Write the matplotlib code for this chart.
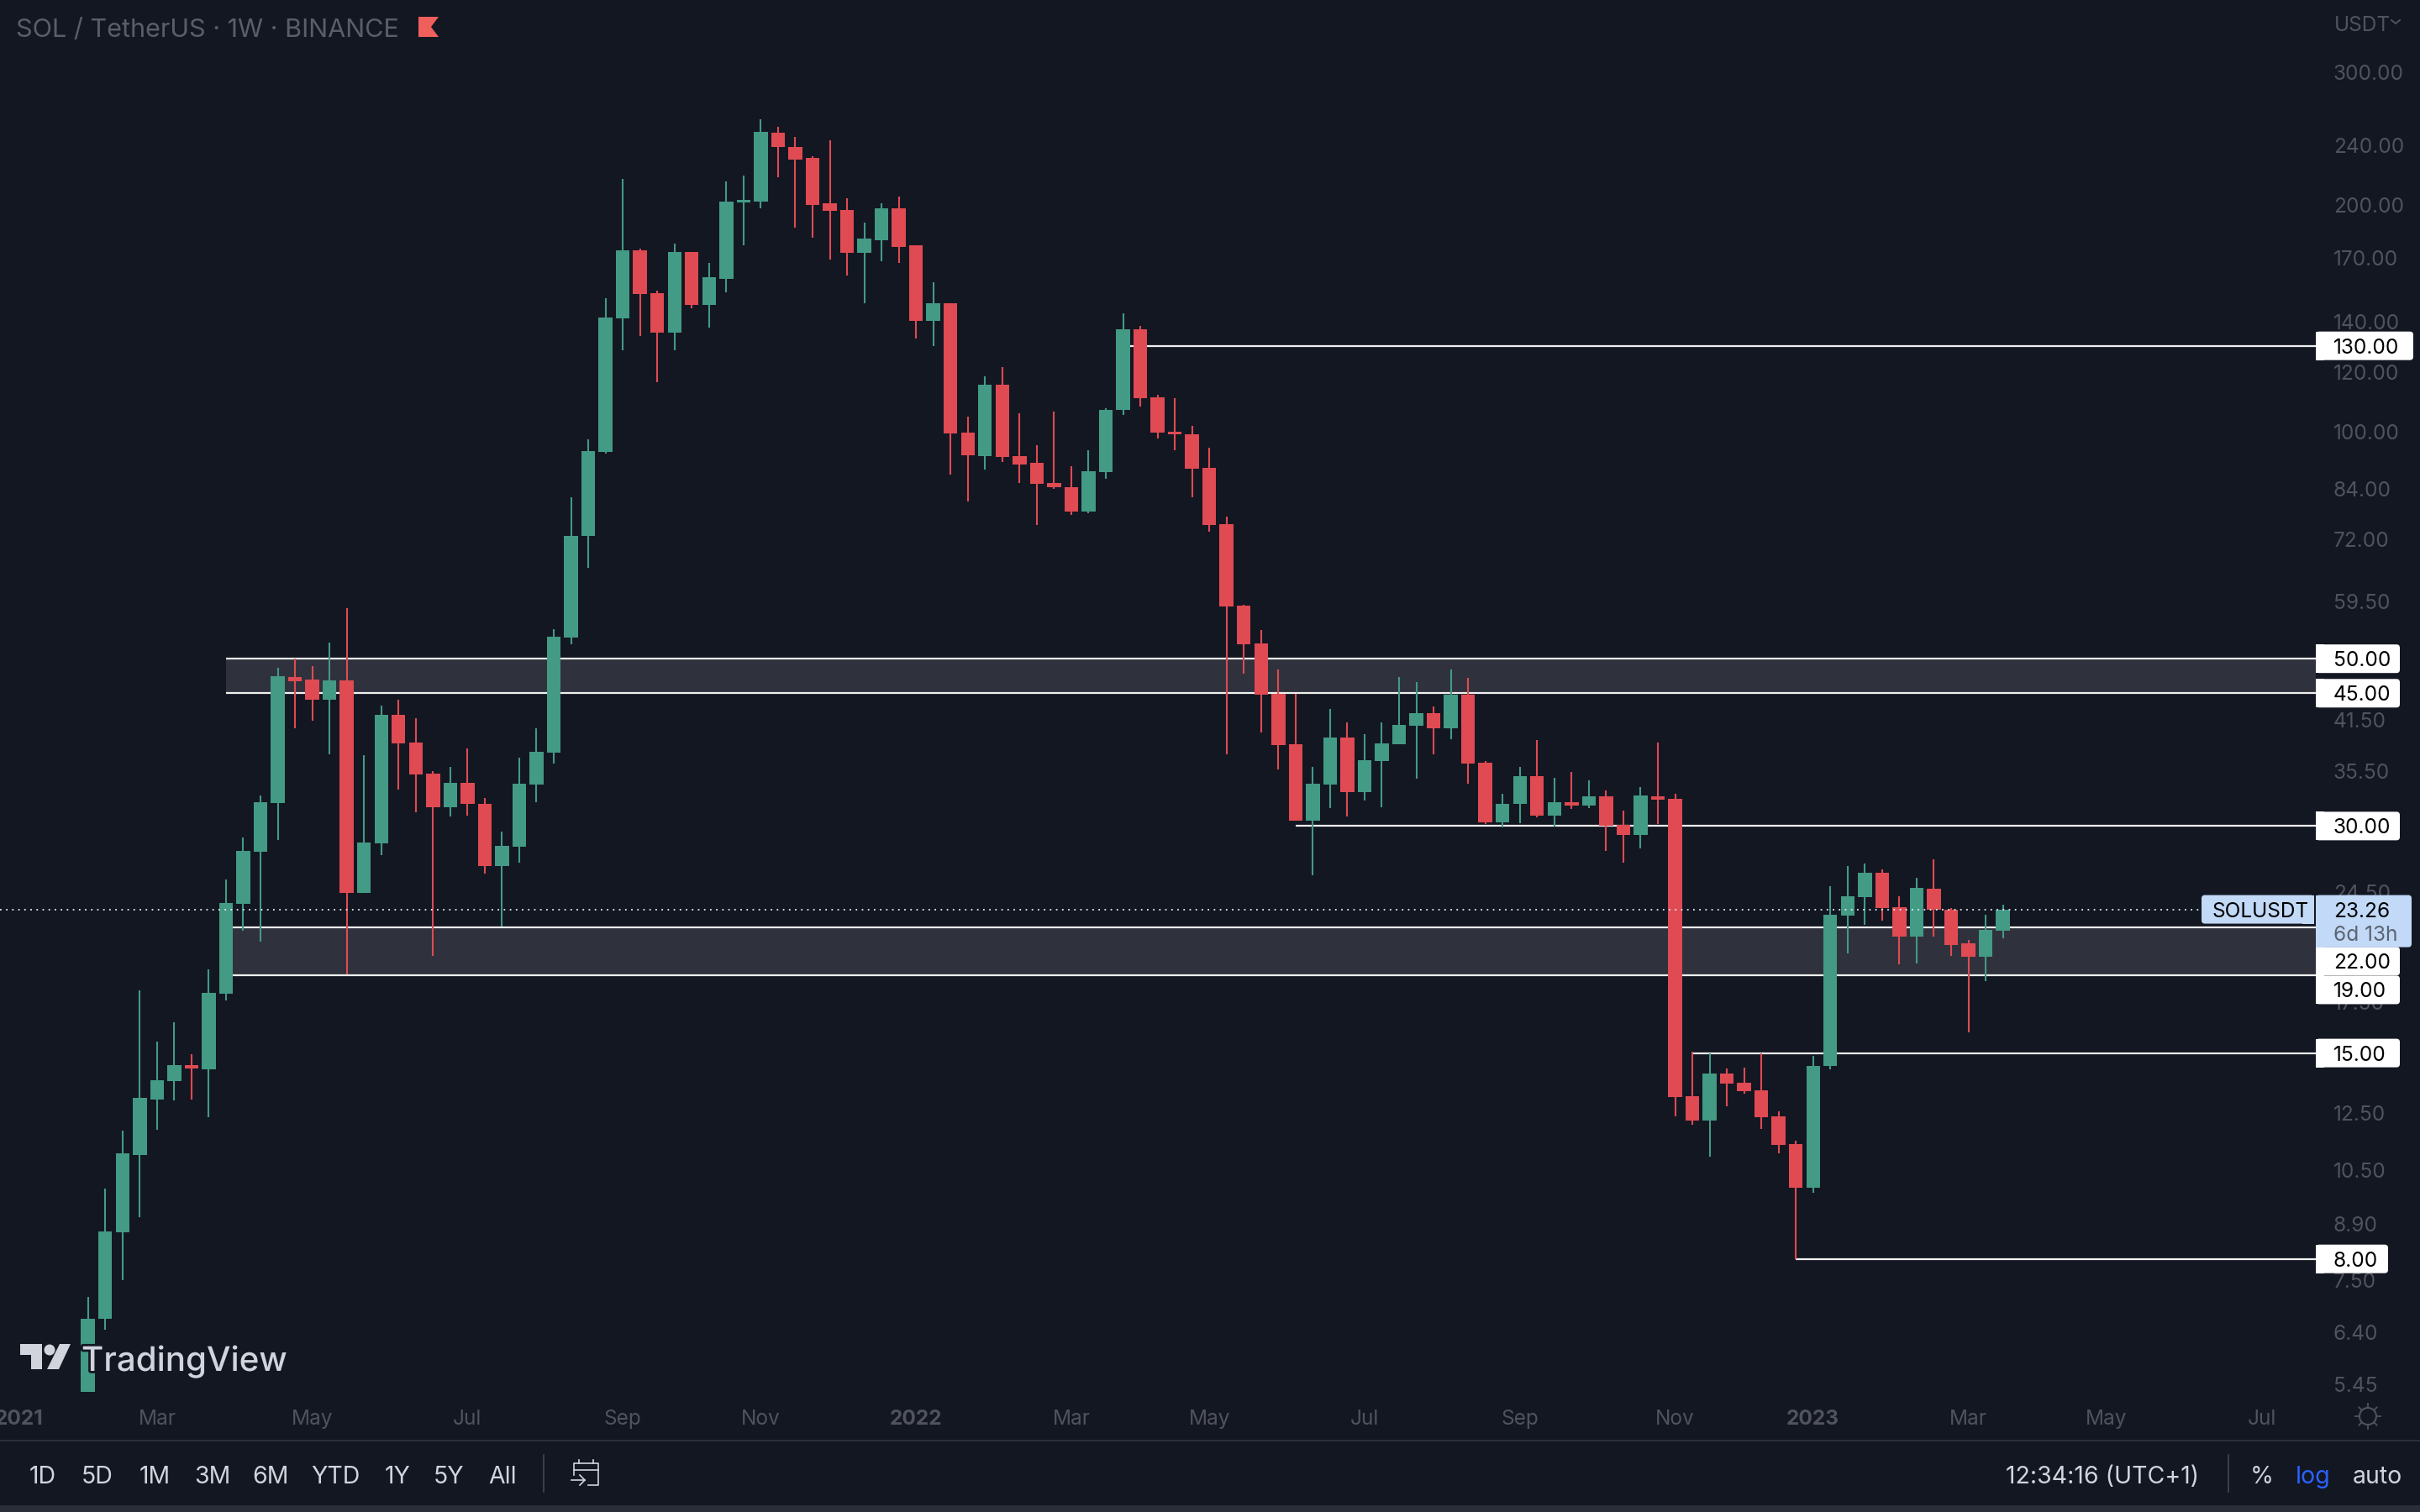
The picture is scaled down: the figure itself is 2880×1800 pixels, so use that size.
import numpy as np
import pandas as pd
import matplotlib
matplotlib.use("Agg")
import matplotlib.pyplot as plt
import matplotlib.patheffects as pe
from matplotlib.patches import FancyBboxPatch, Rectangle, Polygon, Circle
from matplotlib.ticker import NullLocator

plt.rcParams["font.family"] = ["Inter", "DejaVu Sans"]

# =========================================================
# DATA (weekly candles, first week = 2021-02-01)
# =========================================================
START_WEEK = "2021-02-01"

opens = [5.2, 6.67, 8.67, 11.0, 13.0, 13.77, 14.44, 14.28, 18.0, 23.63, 27.75, 32.2, 47.29, 46.91, 44.08, 46.83,
         24.46, 28.44, 42.11, 38.67, 35.17, 31.78, 34.2, 32.09, 26.54, 28.15, 34.04, 37.55, 53.39, 72.66, 94.1, 141.5,
         174.1, 152.8, 135.5, 172.9, 147.1, 159.6, 201.6, 202.0, 249.4, 238.8, 230.5, 200.7, 196.6, 172.5, 179.6, 197.9,
         176.5, 140.4, 148.1, 99.78, 92.94, 115.3, 92.94, 90.83, 85.58, 84.51, 78.44, 88.46, 106.8, 136.9, 111.1, 100.1,
         99.32, 89.6, 75.45, 58.81, 52.43, 44.92, 38.54, 30.49, 34.05, 39.34, 33.31, 36.6, 38.54, 40.75, 42.34, 40.45,
         44.85, 36.44, 30.36, 32.06, 34.97, 30.99, 32.29, 31.96, 32.87, 30.13, 29.21, 32.87, 32.63, 13.15, 12.2, 14.09,
         13.7, 13.38, 12.36, 11.36, 9.94, 14.43, 22.85, 24.16, 26.01, 23.42, 21.41, 24.77, 23.22, 20.97, 20.13, 21.79]
highs = [7.12, 9.91, 11.83, 18.16, 15.52, 16.46, 14.94, 19.36, 25.48, 28.95, 32.94, 48.63, 50.0, 48.87, 52.52, 58.32,
         37.25, 43.29, 44.08, 41.69, 35.46, 35.93, 38.04, 32.67, 29.48, 36.94, 40.42, 54.71, 81.94, 97.74, 150.5, 216.2,
         175.1, 153.7, 177.7, 173.3, 167.6, 214.9, 218.9, 259.9, 253.5, 246.3, 232.1, 243.2, 204.1, 189.5, 200.7, 204.8,
         176.5, 157.9, 148.1, 104.6, 118.5, 121.9, 105.9, 96.08, 106.4, 89.91, 94.55, 107.5, 143.6, 138.3, 112.0, 110.9,
         101.9, 95.3, 77.2, 58.9, 54.63, 48.42, 44.92, 35.96, 42.91, 41.18, 39.75, 41.12, 47.29, 46.6, 43.23, 48.42,
         47.22, 36.55, 33.11, 35.96, 39.05, 34.76, 35.38, 34.5, 33.46, 31.45, 33.8, 38.71, 33.11, 15.06, 14.99, 14.3,
         14.34, 14.99, 12.56, 11.48, 14.88, 24.99, 26.55, 26.78, 26.27, 24.23, 25.63, 27.1, 23.35, 21.19, 22.88, 23.6]
lows = [5.2, 6.44, 7.49, 9.09, 11.88, 12.98, 13.0, 12.32, 17.6, 21.77, 21.08, 28.76, 40.42, 41.35, 37.36, 19.07,
        24.46, 27.43, 33.54, 31.26, 20.17, 30.91, 30.96, 25.94, 22.06, 26.8, 32.25, 36.28, 52.3, 66.07, 93.57, 128.1,
        134.1, 116.2, 128.1, 145.6, 137.5, 153.1, 176.9, 197.9, 217.7, 186.7, 181.0, 169.0, 161.2, 148.1, 168.4, 167.6,
        133.0, 130.0, 87.76, 80.91, 89.18, 91.25, 85.58, 75.27, 84.03, 77.65, 78.0, 86.66, 105.3, 108.1, 98.07, 94.55,
        81.94, 73.74, 37.36, 47.78, 39.92, 35.69, 30.49, 25.82, 31.73, 30.9, 32.44, 31.77, 38.54, 34.71, 37.36, 39.11,
        34.15, 30.18, 29.91, 30.27, 30.8, 29.96, 31.63, 31.73, 27.83, 26.82, 28.04, 30.18, 12.36, 12.05, 10.94, 12.75,
        13.25, 11.9, 11.03, 8.0, 9.8, 14.28, 20.33, 22.18, 22.48, 19.66, 19.72, 21.41, 20.19, 15.97, 18.7, 21.28]
closes = [6.67, 8.69, 11.04, 13.07, 13.79, 14.44, 14.30, 18.01, 23.71, 27.79, 32.25, 47.37, 46.68, 44.08, 46.83, 24.46,
          28.52, 42.11, 38.61, 35.12, 31.78, 34.2, 32.09, 26.54, 28.24, 34.15, 37.61, 53.47, 72.83, 94.33, 141.8, 174.1,
          152.4, 135.5, 172.9, 147.1, 160.1, 202.0, 202.7, 250.0, 238.3, 229.7, 200.0, 196.1, 172.5, 180.2, 197.9, 175.9,
          140.4, 148.1, 99.55, 93.16, 115.3, 92.62, 90.52, 85.39, 84.32, 78.44, 88.67, 107.0, 136.9, 110.9, 99.78, 99.1,
          89.39, 75.12, 58.7, 52.27, 44.85, 38.42, 30.49, 34.15, 39.34, 33.31, 36.71, 38.65, 40.87, 42.34, 40.45, 44.85,
          36.33, 30.36, 32.1, 34.97, 30.99, 32.29, 31.96, 32.87, 30.04, 29.21, 32.97, 32.53, 13.11, 12.2, 14.09, 13.66,
          13.34, 12.32, 11.33, 9.94, 14.43, 22.88, 24.23, 26.01, 23.35, 21.41, 24.85, 23.22, 20.88, 20.13, 21.86, 23.26]

price_ticks = [300, 240, 200, 170, 140, 120, 100, 84, 72, 59.5, 41.5, 35.5, 24.5, 17.5, 12.5, 10.5, 8.9, 7.5, 6.4, 5.45]

time_dates = ["2021-01-04", "2021-03-01", "2021-05-03", "2021-07-05", "2021-09-06", "2021-11-01", "2022-01-03",
              "2022-03-07", "2022-05-02", "2022-07-04", "2022-09-05", "2022-11-07", "2023-01-02", "2023-03-06",
              "2023-05-01", "2023-07-03"]
time_labels = ["2021", "Mar", "May", "Jul", "Sep", "Nov", "2022", "Mar", "May", "Jul", "Sep", "Nov", "2023", "Mar",
               "May", "Jul"]

# drawn levels and the week each one starts on
level_prices = [130, 50, 45, 30, 22, 19, 15, 8]
level_starts = [60, 8, 8, 70, 8, 8, 93, 99]
tag_shift = [0, 0, 0, 0, 40, 17, 0, 0]

zones = [(45, 50), (19, 22)]
last_price = 23.26

range_buttons = ["1D", "5D", "1M", "3M", "6M", "YTD", "1Y", "5Y", "All"]
range_x = [51, 116, 184, 253, 322, 399, 473, 534, 598]

# =========================================================
# COLORS
# =========================================================
BG = "#131722"
GREEN = "#439a85"
RED = "#e04a52"
GREY = "#50535e"
LIGHT = "#d1d4dc"
LEVEL = "#f0f0f0"
ZONE = "#2f323c"
TAG_BLUE = "#c2d9f8"
STRIP = "#2a2e39"

SCALE_FS = 17.6
BAR_FS = 20.5

# =========================================================
# CHART PANE
# =========================================================
W, H = 2880, 1800
PANE_R = 2756
PANE_B = 1657

fig = plt.figure(figsize=(W / 100, H / 100), dpi=100, facecolor=BG)
ax = fig.add_axes([0, 1 - PANE_B / H, PANE_R / W, PANE_B / H], facecolor=BG)

weeks = np.arange(len(closes))
opens_a, highs_a, lows_a, closes_a = map(np.array, (opens, highs, lows, closes))
colors = [GREEN if c >= o else RED for o, c in zip(opens_a, closes_a)]

ax.set_yscale("log")
ax.set_xlim(-5.1, 129.14)
ax.set_ylim(5.33, 373.7)
x_end = 129.14

for low, high in zones:
    start = level_starts[level_prices.index(high)]
    ax.fill_between([start, x_end], low, high, color=ZONE, lw=0, zorder=1)

for price, start in zip(level_prices, level_starts):
    ax.hlines(price, start, x_end, color=LEVEL, lw=1.6, zorder=2)

ax.vlines(weeks, lows_a, highs_a, color=colors, lw=1.5, zorder=3)
ax.bar(weeks, np.abs(closes_a - opens_a), bottom=np.minimum(opens_a, closes_a), width=0.8, color=colors, lw=0, zorder=4)

ax.hlines(last_price, -5.1, x_end, color="#e6ecf5", lw=1.3, linestyles=(0, (1, 3)), zorder=5)

for s in ax.spines.values():
    s.set_visible(False)

ax.yaxis.tick_right()
ax.yaxis.set_minor_locator(NullLocator())
ax.set_yticks(price_ticks)
ax.set_yticklabels([f"{p:.2f}" for p in price_ticks])
ax.tick_params(axis="y", length=0, pad=15, labelsize=SCALE_FS, labelcolor=GREY)

week0 = pd.Timestamp(START_WEEK)
ax.set_xticks([(pd.Timestamp(d) - week0).days / 7 for d in time_dates])
ax.set_xticklabels(time_labels)
ax.tick_params(axis="x", length=0, pad=15, labelsize=SCALE_FS, labelcolor=GREY)
for lab in ax.get_xticklabels():
    if lab.get_text().startswith("20"):
        lab.set_fontweight("bold")

# =========================================================
# OVERLAY IN PIXELS (tags, toolbar, logo)
# =========================================================
ui = fig.add_axes([0, 0, 1, 1], facecolor="none")
ui.set_xlim(0, W)
ui.set_ylim(H, 0)
ui.axis("off")
fig.canvas.draw()


def price_to_px(p):
    return H - ax.transData.transform((0, p))[1]


def tag(x0, x1, y0, y1, color, zorder=6):
    ui.add_patch(FancyBboxPatch((x0 + 4, y0 + 4), x1 - x0 - 8, y1 - y0 - 8, boxstyle="round,pad=4,rounding_size=4",
                                fc=color, ec="none", zorder=zorder))
    ui.add_patch(Rectangle((x0, y0), 10, y1 - y0, fc=color, ec="none", zorder=zorder))


tag_right = {4: 2842, 5: 2856, 6: 2872}

for price, shift in zip(level_prices, tag_shift):
    yc = price_to_px(price) + shift
    label = f"{price:.2f}"
    tag(2756, tag_right[len(label)], yc - 17, yc + 17, "white")
    ui.text(2777, yc, label, color="black", fontsize=SCALE_FS, ha="left", va="center_baseline", zorder=7)

# current price tags
yc = price_to_px(last_price)
ui.add_patch(FancyBboxPatch((2624, yc - 13), 126, 26, boxstyle="round,pad=4,rounding_size=4", fc=TAG_BLUE, ec="none", zorder=8))
ui.add_patch(Rectangle((2740, yc - 17), 14, 34, fc=TAG_BLUE, ec="none", zorder=8))
ui.text(2632, yc, "SOLUSDT", color="black", fontsize=SCALE_FS, ha="left", va="center_baseline", zorder=9)
tag(2756, 2870, yc - 17, yc + 45, TAG_BLUE, zorder=8)
ui.text(2777, yc, f"{last_price:.2f}", color="black", fontsize=SCALE_FS, ha="left", va="center_baseline", zorder=9)
ui.text(2777, yc + 28, "6d 13h", color="#5b6470", fontsize=SCALE_FS, ha="left", va="center_baseline", zorder=9)

# header
ui.text(19, 33, "SOL / TetherUS · 1W · BINANCE", color="#5a5e69", fontsize=22, ha="left", va="center_baseline")
ui.add_patch(Polygon([(498, 20), (522, 20), (513, 32), (522, 44), (498, 44)], fc="#ef5f5b", ec="none"))
ui.text(2778, 28, "USDT", color=GREY, fontsize=SCALE_FS, ha="left", va="center_baseline")
ui.plot([2846, 2851, 2856], [24, 28, 24], color=GREY, lw=1.4)

# logo
LOGO = "#d1d4dc"
ui.add_patch(Polygon([(24, 1600), (50, 1600), (50, 1630), (37, 1630), (37, 1613), (24, 1613)], fc=LOGO, ec="none", zorder=6))
ui.add_patch(Circle((59, 1607), 6.5, fc=LOGO, ec="none", zorder=6))
ui.add_patch(Polygon([(71, 1600), (84, 1600), (70, 1630), (56, 1630)], fc=LOGO, ec="none", zorder=6))
ui.text(97, 1617, "TradingView", color=LOGO, fontsize=29, fontweight="medium", ha="left", va="center_baseline", zorder=6,
        path_effects=[pe.withStroke(linewidth=4, foreground=BG)])

# sun button
ui.add_patch(Circle((2818, 1686), 10, fc="none", ec=GREY, lw=1.5))
for a in np.deg2rad(np.arange(0, 360, 45)):
    ui.plot([2818 + 11 * np.cos(a), 2818 + 15 * np.cos(a)], [1686 + 11 * np.sin(a), 1686 + 15 * np.sin(a)], color=GREY, lw=1.3)

# bottom toolbar
ui.add_patch(Rectangle((0, 1713.5), W, 2.5, fc=STRIP, ec="none"))
ui.add_patch(Rectangle((0, 1792), W, 8, fc=STRIP, ec="none"))
for label, x in zip(range_buttons, range_x):
    ui.text(x, 1755, label, color=LIGHT, fontsize=BAR_FS, ha="center", va="center_baseline")
for x in (647, 2652):
    ui.plot([x, x], [1732, 1776], color="#434651", lw=1.2)

# calendar icon
ui.plot([683, 683, 712, 712, 700], [1756, 1742, 1742, 1768, 1768], color=LIGHT, lw=1.2)
ui.plot([683, 712], [1750, 1750], color=LIGHT, lw=1.2)
ui.plot([689, 689], [1738, 1742], color=LIGHT, lw=1.2)
ui.plot([706, 706], [1738, 1742], color=LIGHT, lw=1.2)
ui.plot([680, 696], [1762, 1762], color=LIGHT, lw=1.2)
ui.plot([690, 696, 690], [1756, 1762, 1768], color=LIGHT, lw=1.2)

ui.text(2617, 1756, "12:34:16 (UTC+1)", color=LIGHT, fontsize=BAR_FS, ha="right", va="center_baseline")
ui.text(2692, 1756, "%", color=LIGHT, fontsize=BAR_FS, ha="center", va="center_baseline")
ui.text(2753, 1756, "log", color="#2962ff", fontsize=BAR_FS, ha="center", va="center_baseline")
ui.text(2829, 1756, "auto", color=LIGHT, fontsize=BAR_FS, ha="center", va="center_baseline")

fig.savefig("out.png", dpi=100, facecolor=BG)
